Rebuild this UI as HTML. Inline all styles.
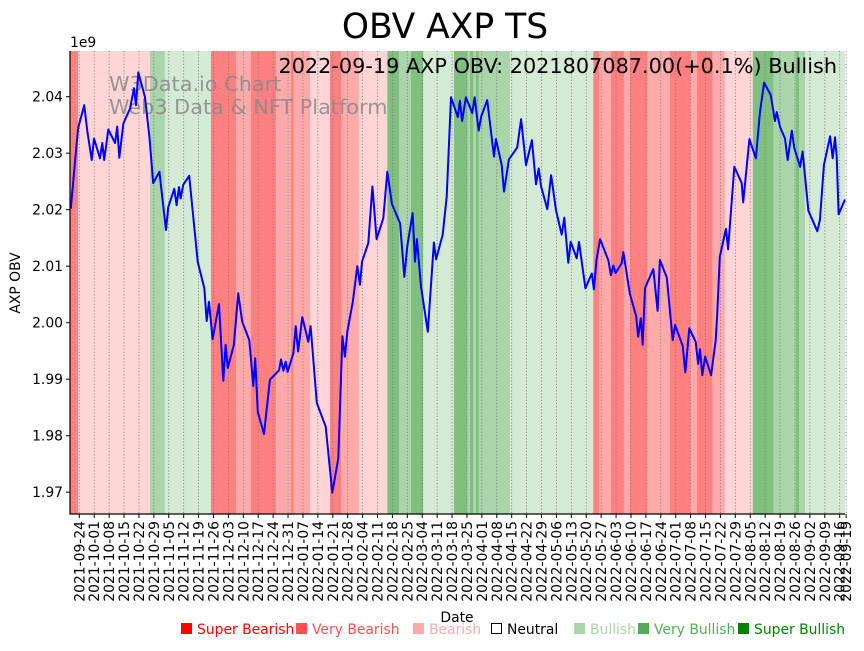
<!DOCTYPE html>
<html><head><meta charset="utf-8"><style>
body{margin:0;background:#fff;}
svg text{font-family:"DejaVu Sans","Liberation Sans",sans-serif;}
</style></head><body>
<svg id="chart" width="864" height="646" viewBox="0 0 864 646" xmlns="http://www.w3.org/2000/svg">
<g id="bands"></g>
<g id="grid"></g>
<text x="109" y="91" font-size="20.8" fill="#888" fill-opacity="0.85">W3Data.io Chart</text>
<text x="109" y="114" font-size="20.8" fill="#888" fill-opacity="0.85">Web3 Data &amp; NFT Platform</text>
<path id="line" fill="none" stroke="#0000ff" stroke-width="2" stroke-linejoin="round"/>
<g id="axes"></g>
<text x="445" y="38" font-size="34.5" text-anchor="middle">OBV AXP TS</text>
<text x="837" y="73" font-size="20.8" text-anchor="end">2022-09-19 AXP OBV: 2021807087.00(+0.1%) Bullish</text>
<text x="70" y="47" font-size="13.9">1e9</text>
<text transform="translate(20,283) rotate(-90)" font-size="13.9" text-anchor="middle">AXP OBV</text>
<text x="457" y="622" font-size="13.9" text-anchor="middle">Date</text>
<g font-size="13.9">
<g><rect x="181" y="623" width="11" height="11" fill="#ff0000"/><text x="197" y="634" fill="#ff0000">Super Bearish</text></g>
<g><rect x="296" y="623" width="11" height="11" fill="#ff5050"/><text x="312" y="634" fill="#ff5050">Very Bearish</text></g>
<g><rect x="413" y="623" width="11" height="11" fill="#ffaaaa"/><text x="429" y="634" fill="#ffaaaa">Bearish</text></g>
<g><rect x="491.5" y="623.5" width="10" height="10" fill="#fff" stroke="#000"/><text x="507" y="634" fill="#000">Neutral</text></g>
<g><rect x="574" y="623" width="11" height="11" fill="#aad4aa"/><text x="590" y="634" fill="#aad4aa">Bullish</text></g>
<g><rect x="638" y="623" width="11" height="11" fill="#55aa55"/><text x="654" y="634" fill="#55aa55">Very Bullish</text></g>
<g><rect x="738" y="623" width="11" height="11" fill="#008000"/><text x="754" y="634" fill="#008000">Super Bullish</text></g>
</g>
</svg>
<script>
// days since 2021-09-24
const obvDays=[-4,-1.5,-0.5,2.3,3.8,5.8,6.9,9.7,10.8,11.7,13.6,16.8,17.8,18.8,20.7,23.8,25.7,26.6,27.7,30.8,32.9,34.7,37.6,40.7,41.8,44.6,45.7,46.8,47.6,48.8,51.6,55.6,58.7,59.8,60.9,62.6,65.6,67.6,68.7,69.7,72.6,74.6,76.5,79.8,81.7,82.6,83.8,86.7,89.5,93.8,94.7,95.8,96.9,97.8,100.5,101.6,102.7,104.7,107.5,108.6,111.5,115.7,118.8,121.6,123.5,124.7,125.8,128.4,130.5,131.8,132.7,135.7,137.6,139.6,142.7,144.6,146.8,150.6,152.6,154,156.5,157.6,158.5,160.4,163.6,166.5,167.5,170.6,172.5,174.5,177.7,178.7,179.7,181.5,184.5,185.6,187.5,188.7,191.5,194.7,195.6,198.3,199.4,201.7,205.6,207.4,209.7,212.5,214.4,215.7,216.8,219.7,221.5,223.8,226.5,227.7,229.6,230.7,233.5,234.6,237.6,240.6,241.6,242.8,244.5,248.4,249.6,250.7,251.8,254.6,255.4,258.5,261.4,262.4,263.6,264.5,265.6,269.5,271.5,272.6,275.8,278.6,279.7,283.3,284.5,286.4,289.4,290.5,291.4,292.5,293.8,296.6,298.8,299.5,300.7,303.6,304.6,307.5,311,311.7,314.6,317.6,319.6,321.5,324.6,326.6,327.4,329,331.3,332.6,334.5,335.7,338.4,339.6,342.3,346.5,347.7,349.6,352.5,353.7,354.8,355.6,356.5,359.5];
// OBV in billions
const obvValues=[2.0202,2.0306,2.0345,2.0385,2.0338,2.0288,2.0326,2.0291,2.0318,2.0288,2.0342,2.0318,2.0347,2.0292,2.0353,2.0379,2.0415,2.0385,2.0443,2.0400,2.0329,2.0247,2.0267,2.0164,2.0205,2.0237,2.0208,2.0240,2.0220,2.0244,2.0260,2.0108,2.0061,2.0003,2.0037,1.9971,2.0033,1.9897,1.9961,1.9920,1.9961,2.0052,2.0002,1.9969,1.9888,1.9937,1.9842,1.9803,1.9899,1.9916,1.9935,1.9915,1.9931,1.9913,1.9946,1.9994,1.9949,2.0010,1.9966,1.9994,1.9858,1.9816,1.9699,1.9760,1.9976,1.9940,1.9984,2.0037,2.0100,2.0067,2.0108,2.0141,2.0241,2.0148,2.0185,2.0267,2.0210,2.0176,2.0081,2.0135,2.0194,2.0108,2.0148,2.0064,1.9984,2.0142,2.0112,2.0156,2.0223,2.0399,2.0364,2.0393,2.0357,2.0399,2.0371,2.0399,2.0340,2.0365,2.0394,2.0294,2.0325,2.0279,2.0232,2.0289,2.0310,2.0360,2.0279,2.0323,2.0245,2.0273,2.0241,2.0201,2.0261,2.0199,2.0156,2.0186,2.0106,2.0143,2.0114,2.0143,2.0061,2.0087,2.0059,2.0111,2.0148,2.0110,2.0084,2.0101,2.0088,2.0105,2.0125,2.0051,2.0012,1.9975,2.0008,1.9961,2.0061,2.0095,2.0021,2.0111,2.0080,1.9969,1.9996,1.9959,1.9912,1.9990,1.9966,1.9927,1.9953,1.9907,1.9940,1.9907,1.9969,2.0014,2.0117,2.0166,2.0130,2.0276,2.0247,2.0213,2.0325,2.0291,2.0373,2.0425,2.0403,2.0357,2.0373,2.0346,2.0326,2.0288,2.0340,2.0309,2.0276,2.0303,2.0198,2.0162,2.0182,2.0279,2.0330,2.0291,2.0328,2.0294,2.0192,2.0218];
const bandStarts=[-4.5,-0.6,33.2,40.2,61.8,73.6,80.6,92.4,99.4,100.7,108.3,117.7,122.9,131.3,144.6,150.1,155.7,161.5,175.9,182.2,183.4,185,186.2,187.6,202.2,241.3,244,249.6,255.7,258.5,266.9,277.3,287,289.9,297.4,303.1,316.2,326,336.3,337.9,340.7];
const bandLevels=[-3,-1,2,1,-3,-2,-3,-2,-3,-2,-1,-3,-2,-1,3,2,3,1,3,2,3,2,3,2,1,-3,-2,-3,-2,-3,-2,-3,-2,-3,-2,-1,3,2,3,2,1];
const bandEnd=359.5;
const yTicks=[1.97,1.98,1.99,2.00,2.01,2.02,2.03,2.04];
const yTickLabels=["1.97","1.98","1.99","2.00","2.01","2.02","2.03","2.04"];

const L=70,R=845,T=51,B=514;
const xs=d=>79.3+2.13*d;
const ys=v=>96.7+(2.04-v)*5650;
const NS="http://www.w3.org/2000/svg";
const levelColor={"-3":"#ff8080","-2":"#ffaaaa","-1":"#ffd5d5","1":"#d4ead4","2":"#aad5aa","3":"#80bf80"};
const bands=document.getElementById('bands');
for(let i=0;i<bandStarts.length;i++){
  const a=Math.max(L,xs(bandStarts[i]));
  const b=Math.min(R,xs(i+1<bandStarts.length?bandStarts[i+1]:bandEnd));
  const r=document.createElementNS(NS,'rect');
  r.setAttribute('x',a);r.setAttribute('y',T);r.setAttribute('width',Math.max(0,b-a));r.setAttribute('height',B-T);
  r.setAttribute('fill',levelColor[bandLevels[i]]);
  
  
  bands.appendChild(r);
}
const tickDays=[];for(let d=0;d<=357;d+=7)tickDays.push(d);tickDays.push(360);
const base=Date.UTC(2021,8,24);
const grid=document.getElementById('grid'),axes=document.getElementById('axes');
tickDays.forEach(d=>{
  const x=xs(d);
  const g=document.createElementNS(NS,'line');
  g.setAttribute('x1',x);g.setAttribute('x2',x);g.setAttribute('y1',T);g.setAttribute('y2',B);
  g.setAttribute('stroke','#777');g.setAttribute('stroke-width','0.8');g.setAttribute('stroke-dasharray','1.2,2');
  
  
  grid.appendChild(g);
  const t=document.createElementNS(NS,'line');
  t.setAttribute('x1',x);t.setAttribute('x2',x);t.setAttribute('y1',B);t.setAttribute('y2',B+4);t.setAttribute('stroke','#000');
  
  
  axes.appendChild(t);
  const s=new Date(base+d*864e5).toISOString().slice(0,10);
  const tx=document.createElementNS(NS,'text');
  tx.setAttribute('transform',`translate(${x+5},${B+7}) rotate(-90)`);
  tx.setAttribute('text-anchor','end');tx.setAttribute('font-size','13.9');
  tx.textContent=s;
  
  
  axes.appendChild(tx);
});
yTicks.forEach((v,i)=>{
  const y=ys(v);
  const t=document.createElementNS(NS,'line');
  t.setAttribute('x1',L-4);t.setAttribute('x2',L);t.setAttribute('y1',y);t.setAttribute('y2',y);t.setAttribute('stroke','#000');
  
  
  axes.appendChild(t);
  const tx=document.createElementNS(NS,'text');
  tx.setAttribute('x',L-7);tx.setAttribute('y',y+5);tx.setAttribute('text-anchor','end');tx.setAttribute('font-size','13.9');
  tx.textContent=yTickLabels[i];
  
  
  axes.appendChild(tx);
});
const ax=document.createElementNS(NS,'path');
ax.setAttribute('d',`M${L},${T}V${B}H${R}`);ax.setAttribute('stroke','#000');ax.setAttribute('fill','none');ax.setAttribute('stroke-width','1.2');


axes.appendChild(ax);
let d='';
obvDays.forEach((dd,i)=>{d+=(i?'L':'M')+Math.max(L,xs(dd)).toFixed(1)+','+ys(obvValues[i]).toFixed(1);});
document.getElementById('line').setAttribute('d',d);
</script>
</body></html>
